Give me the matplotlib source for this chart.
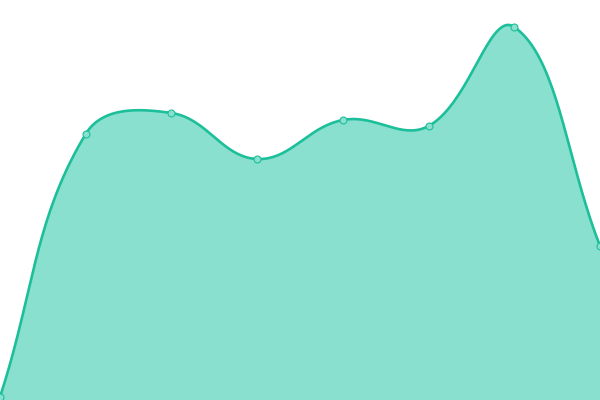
import numpy as np
import matplotlib
matplotlib.use("Agg")
import matplotlib.pyplot as plt

# values (height above bottom, px of a 400px tall chart)
labels = ["1", "2", "3", "4", "5", "6", "7", "8"]
values = [3, 266, 287, 241, 280, 274, 373, 154]

LINE = "#1dbf9b"
FILL = "#89e0cf"


def spline_points(xs, ys, t=0.4, n=40):
    # Chart.js style cardinal bezier curve
    pts = np.column_stack([xs, ys]).astype(float)
    cps = []
    for i in range(len(pts)):
        prev = pts[max(i - 1, 0)]
        cur = pts[i]
        nxt = pts[min(i + 1, len(pts) - 1)]
        d01 = np.hypot(*(cur - prev))
        d12 = np.hypot(*(nxt - cur))
        tot = d01 + d12
        s01 = d01 / tot if tot else 0
        s12 = d12 / tot if tot else 0
        cps.append((cur - t * s01 * (nxt - prev), cur + t * s12 * (nxt - prev)))
    out = []
    u = np.linspace(0, 1, n)[:, None]
    for i in range(len(pts) - 1):
        p0, p3 = pts[i], pts[i + 1]
        p1, p2 = cps[i][1], cps[i + 1][0]
        seg = (1 - u) ** 3 * p0 + 3 * (1 - u) ** 2 * u * p1 + 3 * (1 - u) * u ** 2 * p2 + u ** 3 * p3
        out.append(seg if i == 0 else seg[1:])
    seg = np.vstack(out)
    return seg[:, 0], seg[:, 1]


fig = plt.figure(figsize=(6, 4), dpi=100)
ax = fig.add_axes([0, 0, 1, 1])
w, h = 600, 400
xs = np.linspace(0, w, len(values))
cx, cy = spline_points(xs, np.array(values, float))
ax.fill_between(cx, 0, cy, color=FILL, lw=0)
ax.plot(cx, cy, color=LINE, lw=1.9, solid_capstyle="round")
ax.plot(xs, values, "o", ms=5, mfc=FILL, mec=LINE, mew=0.8, clip_on=False)
ax.set_xlim(0, w)
ax.set_ylim(0, h)
ax.axis("off")
fig.savefig("out.png", dpi=100)
